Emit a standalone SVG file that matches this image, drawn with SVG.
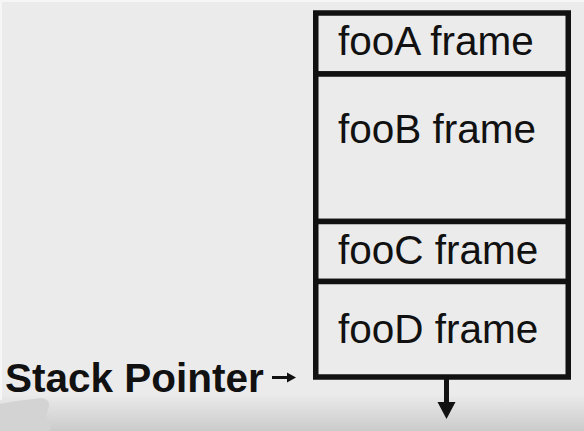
<svg xmlns="http://www.w3.org/2000/svg" width="584" height="431" viewBox="0 0 584 431">
<defs>
<linearGradient id="bottom" x1="0" y1="0" x2="0" y2="1">
<stop offset="0" stop-color="#e9e9e9"/>
<stop offset="1" stop-color="#cbcbcb"/>
</linearGradient>
<style>
.frame{fill:#ebebeb;stroke:#111;stroke-width:5.5}
.lbl{font-family:"Liberation Sans",Arial,sans-serif;font-size:40.5px;fill:#111}
.sp{font-family:"Liberation Sans",Arial,sans-serif;font-size:40.5px;font-weight:bold;fill:#111}
.conn{stroke:#111;fill:none}
</style>
</defs>
<rect x="0" y="0" width="584" height="431" fill="#ebebeb"/>
<rect x="0" y="396" width="584" height="35" fill="url(#bottom)"/>
<rect x="0" y="0" width="584" height="2" fill="#f6f6f6"/>
<rect x="0" y="0" width="2" height="400" fill="#f6f6f6"/>
<path d="M0 404 Q20 400 42 398 Q52 400 48 410 Q44 416 50 422 Q52 431 48 431 L0 431 Z" fill="#d3d3d3"/>
<g id="fooA"><rect class="frame" x="315.75" y="13" width="252.5" height="61"/><text class="lbl" x="338" y="55">fooA frame</text></g>
<g id="fooB"><rect class="frame" x="315.75" y="74" width="252.5" height="147.5"/><text class="lbl" x="338" y="143">fooB frame</text></g>
<g id="fooC"><rect class="frame" x="315.75" y="221.5" width="252.5" height="60"/><text class="lbl" x="338" y="264">fooC frame</text></g>
<g id="fooD"><rect class="frame" x="315.75" y="281.5" width="252.5" height="95.5"/><text class="lbl" x="338" y="343">fooD frame</text></g>
<g id="stackPointer"><text class="sp" x="5" y="392">Stack Pointer</text></g>
<g id="connectors">
<line class="conn" x1="272" y1="377.5" x2="290" y2="377.5" stroke-width="3"/>
<path d="M287 372.5 L296 377.5 L287 382.5 Z" fill="#111"/>
<line class="conn" x1="446.5" y1="379" x2="446.5" y2="404" stroke-width="5"/>
<path d="M437.5 402 L455.5 402 L446.5 419 Z" fill="#111"/>
</g>
</svg>
